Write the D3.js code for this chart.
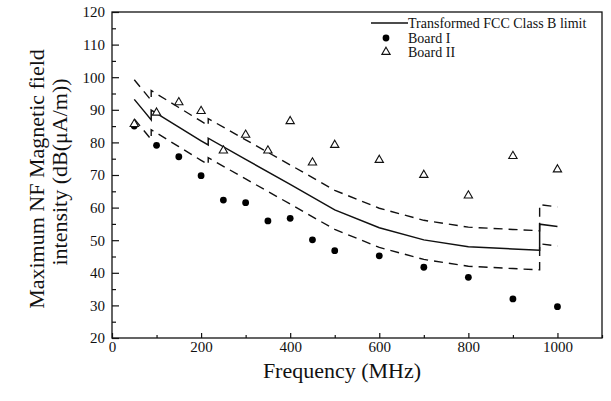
<!DOCTYPE html>
<html>
<head>
<meta charset="utf-8">
<script src="https://cdn.jsdelivr.net/npm/d3@7"></script>
<style>
    body { margin: 0; background: #fff; }
    svg text { font-family: "Liberation Serif", "Times New Roman", serif; fill: #111; }
    .frame { fill: none; stroke: #111; stroke-width: 1.3; }
    .limit { fill: none; stroke: #111; stroke-width: 1.5; }
    .bound { fill: none; stroke: #111; stroke-width: 1.4; stroke-dasharray: 9,6; }
    .boardI { fill: #000; }
    .boardII { fill: #fff; stroke: #111; stroke-width: 1.1; }
</style>
</head>
<body>
<div id="nf-chart"></div>
<script>
// measured frequencies (MHz)
var freqs = [50, 100, 150, 200, 250, 300, 350, 400, 450, 500, 600, 700, 800, 900, 1000];
var boardI = [85.0, 79.1, 75.6, 69.8, 62.3, 61.5, 55.9, 56.7, 50.1, 46.8, 45.2, 41.7, 38.6, 32.0, 29.6];
var boardII = [85.6, 89.1, 92.3, 89.6, 77.5, 82.3, 77.5, 86.5, 73.8, 79.2, 74.6, 70.0, 63.7, 75.8, 71.7];

// transformed FCC class B limit and its dashed band (steps at 88, 216, 960 MHz)
var limitFreqs = [50, 70, 88, 88, 100, 150, 200, 216, 216, 300, 400, 500, 600, 700, 800, 900, 960, 960, 1000];
var limitVals = [93.2, 89.9, 86.9, 89.9, 88.9, 84.7, 80.5, 79.2, 81.3, 74.8, 67.1, 59.3, 53.8, 50.1, 48.0, 47.3, 46.9, 54.9, 54.2];
var upperVals = [99.2, 95.9, 92.9, 95.9, 94.9, 90.7, 86.5, 85.2, 87.3, 80.8, 73.1, 65.3, 59.8, 56.1, 54.0, 53.3, 52.9, 60.9, 60.2];
var lowerVals = [87.2, 83.9, 80.9, 83.9, 82.9, 78.7, 74.5, 73.2, 75.3, 68.8, 61.1, 53.3, 47.8, 44.1, 42.0, 41.3, 40.9, 48.9, 48.2];

var xTicks = [0, 200, 400, 600, 800, 1000];
var xMinor = [100, 300, 500, 700, 900, 1100];
var yTicks = [20, 30, 40, 50, 60, 70, 80, 90, 100, 110, 120];
var yMinor = [25, 35, 45, 55, 65, 75, 85, 95, 105, 115];

var legendLabels = ["Transformed FCC Class B limit", "Board I", "Board II"];

var serif = '"Liberation Serif", "Times New Roman", serif';

/**
 * Constructor for the near field chart
 */
function NFChart(){
    var self = this;
    self.init();
};

NFChart.prototype.init = function(){
    var self = this;
    self.margin = {top: 12, right: 9, bottom: 63, left: 112};
    self.svgWidth = 611;
    self.svgHeight = 401;
    self.width = self.svgWidth - self.margin.left - self.margin.right;
    self.height = self.svgHeight - self.margin.top - self.margin.bottom;

    self.svg = d3.select("#nf-chart").append("svg")
        .attr("width", self.svgWidth)
        .attr("height", self.svgHeight);

    self.g = self.svg.append("g")
        .attr("transform", "translate(" + self.margin.left + "," + self.margin.top + ")");

    self.xScale = d3.scaleLinear().domain([0, 1100]).range([0, self.width]);
    self.yScale = d3.scaleLinear().domain([20, 120]).range([self.height, 0]);
};

/**
 * Strips the default d3 axis styling so the serif font and frame are used
 */
NFChart.prototype.cleanAxis = function(a){
    a.select(".domain").remove();
    a.attr("font-family", serif).attr("font-size", 15);
    a.selectAll("text")
        .style("font-family", serif)
        .style("font-size", "15px");
};

NFChart.prototype.drawAxes = function(){
    var self = this;
    var g = self.g;

    //ticks point inward, so negative tick size
    g.append("g")
        .attr("transform", "translate(0," + self.height + ")")
        .call(d3.axisBottom(self.xScale).tickValues(xTicks).tickSize(-5).tickPadding(3).tickFormat(d3.format("d")))
        .call(self.cleanAxis);

    g.append("g")
        .attr("transform", "translate(0," + self.height + ")")
        .call(d3.axisBottom(self.xScale).tickValues(xMinor).tickSize(-3).tickFormat(""))
        .call(self.cleanAxis);

    g.append("g")
        .call(d3.axisLeft(self.yScale).tickValues(yTicks).tickSize(-7).tickPadding(7))
        .call(self.cleanAxis);

    g.append("g")
        .call(d3.axisLeft(self.yScale).tickValues(yMinor).tickSize(-4).tickFormat(""))
        .call(self.cleanAxis);

    g.selectAll(".tick line").attr("stroke", "#111").attr("stroke-width", 1.2);

    g.append("rect")
        .attr("class", "frame")
        .attr("width", self.width)
        .attr("height", self.height);

    //axis titles
    self.svg.append("text")
        .attr("x", 342)
        .attr("y", 378)
        .style("text-anchor", "middle")
        .style("font-size", "22px")
        .text("Frequency (MHz)");

    var yTitle = self.svg.append("text")
        .attr("transform", "translate(0,175) rotate(-90)")
        .style("text-anchor", "middle")
        .style("font-size", "22px");
    yTitle.append("tspan").attr("x", -4).attr("y", 44).text("Maximum NF Magnetic field");
    yTitle.append("tspan").attr("x", 3).attr("y", 67).text("intensity (dB(\u03bcA/m))");
};

NFChart.prototype.update = function(){
    var self = this;
    var x = self.xScale, y = self.yScale;

    var line = function(vals){
        return d3.line()
            .x(function(d, i){ return x(limitFreqs[i]); })
            .y(function(d){ return y(d); })(vals);
    };

    self.g.append("path").attr("class", "bound").attr("d", line(upperVals));
    self.g.append("path").attr("class", "bound").attr("d", line(lowerVals));
    self.g.append("path").attr("class", "limit").attr("d", line(limitVals));

    self.g.selectAll(".boardI")
        .data(boardI)
        .enter().append("circle")
        .attr("class", "boardI")
        .attr("cx", function(d, i){ return x(freqs[i]); })
        .attr("cy", function(d){ return y(d); })
        .attr("r", 3.4);

    var tri = d3.symbol().type(d3.symbolTriangle).size(30);
    self.g.selectAll(".boardII")
        .data(boardII)
        .enter().append("path")
        .attr("class", "boardII")
        .attr("d", tri)
        .attr("transform", function(d, i){ return "translate(" + x(freqs[i]) + "," + y(d) + ")"; });

    //legend, top right inside the frame
    var legend = self.svg.append("g");
    var rows = [23, 38, 52];
    legend.append("line")
        .attr("x1", 371).attr("x2", 408)
        .attr("y1", rows[0]).attr("y2", rows[0])
        .attr("stroke", "#111").attr("stroke-width", 1.5);
    legend.append("circle").attr("class", "boardI").attr("cx", 386).attr("cy", rows[1]).attr("r", 3.4);
    legend.append("path").attr("class", "boardII").attr("d", tri)
        .attr("transform", "translate(386," + rows[2] + ")");

    legend.selectAll(".legendText")
        .data(legendLabels)
        .enter().append("text")
        .attr("class", "legendText")
        .attr("x", 408)
        .attr("y", function(d, i){ return rows[i]; })
        .attr("dy", "0.35em")
        .style("font-size", "14px")
        .text(function(d){ return d; });
};

var chart = new NFChart();
chart.drawAxes();
chart.update();
</script>
</body>
</html>
